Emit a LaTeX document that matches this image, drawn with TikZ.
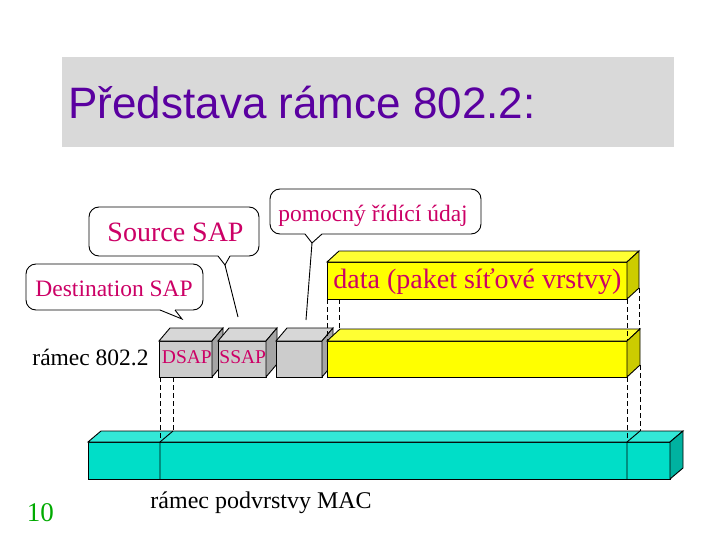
\documentclass[tikz,border=0pt]{standalone}
\usepackage{fontspec}
\setmainfont{Liberation Serif}
\newfontfamily\titlefont{Liberation Sans}
\definecolor{titlec}{RGB}{90,0,160}
\definecolor{bannerc}{RGB}{217,217,217}
\definecolor{callc}{RGB}{204,0,102}
\definecolor{numc}{RGB}{0,170,0}
\definecolor{grayF}{RGB}{204,204,204}
\definecolor{grayT}{RGB}{215,215,215}
\definecolor{grayS}{RGB}{165,165,165}
\definecolor{yelF}{RGB}{255,255,0}
\definecolor{yelT}{RGB}{255,255,51}
\definecolor{yelS}{RGB}{204,204,0}
\definecolor{cyF}{RGB}{0,222,200}
\definecolor{cyT}{RGB}{51,232,215}
\definecolor{cyS}{RGB}{0,178,160}
\newcommand\threedbox[9]{%
  \filldraw[fill=#7] (#1,#2) rectangle (#3,#4);
  \filldraw[fill=#8] (#1,#2) -- (#1+#5,#2-#6) -- (#3+#5,#2-#6) -- (#3,#2) -- cycle;
  \filldraw[fill=#9] (#3,#2) -- (#3+#5,#2-#6) -- (#3+#5,#4-#6) -- (#3,#4) -- cycle;
}
\begin{document}
\begin{tikzpicture}[x=1pt,y=-1pt,line width=0.9pt,
  bubble/.style={draw,fill=white,rounded corners=10pt,inner sep=0pt},
  lbl/.style={anchor=base west,inner sep=0pt},
  calltext/.style={lbl,text=callc},
  guide/.style={dashed,dash pattern=on 5pt off 3pt,line width=0.8pt}]
\useasboundingbox (0,0) rectangle (720,540);
% title banner
\fill[bannerc] (62,57) rectangle (674,147);
\node[lbl,text=titlec,font=\titlefont\fontsize{44}{48}\selectfont] (title) at (68,119) {Představa rámce 802.2:};

% MAC frame
\threedbox{88}{442}{670}{479}{13}{11}{cyF}{cyT}{cyS}
\coordinate (macL) at (160,442);
\coordinate (macLb) at (160,479);
\coordinate (macLt) at (173,431);
\coordinate (macR) at (627,442);
\coordinate (macRb) at (627,479);
\coordinate (macRt) at (640,431);
\draw (macLb) -- (macL) -- (macLt);
\draw (macRb) -- (macR) -- (macRt);

% 802.2 frame
\threedbox{159}{341}{212}{377}{11}{13}{grayF}{grayT}{grayS}
\threedbox{218}{341}{266}{377}{11}{13}{grayF}{grayT}{grayS}
\threedbox{276}{341}{322}{377}{11}{13}{grayF}{grayT}{grayS}
\threedbox{327}{341}{627}{377}{13}{12}{yelF}{yelT}{yelS}
\node[calltext,font=\fontsize{19.5}{21}\selectfont] (dsap) at (161.5,363) {DSAP};
\node[calltext,font=\fontsize{19.5}{21}\selectfont] (ssap) at (219,363) {SSAP};

% data box
\threedbox{327}{262}{627}{299}{12}{11}{yelF}{yelT}{yelS}
\node[calltext,font=\fontsize{28}{30}\selectfont] (data) at (333,288) {data (paket síťové vrstvy)};

% guide lines
\coordinate (g1a) at (160,377); \coordinate (g1b) at (160,442);
\coordinate (g2a) at (173,377); \coordinate (g2b) at (173,431);
\coordinate (g3a) at (627,377); \coordinate (g3b) at (627,442);
\coordinate (g4a) at (640,365); \coordinate (g4b) at (640,431);
\coordinate (g5a) at (327,299); \coordinate (g5b) at (327,341);
\coordinate (g6a) at (339,299); \coordinate (g6b) at (339,329);
\coordinate (g7a) at (627,299); \coordinate (g7b) at (627,341);
\coordinate (g8a) at (639,288); \coordinate (g8b) at (639,329);
\foreach \i in {1,...,8} {\draw[guide] (g\i a) -- (g\i b);}

% labels
\node[lbl,font=\fontsize{23.5}{26}\selectfont] (frame) at (32,365) {rámec 802.2};
\node[lbl,font=\fontsize{24}{26}\selectfont] (mac) at (150,508) {rámec podvrstvy MAC};
\node[lbl,text=numc,font=\fontsize{27}{30}\selectfont] (num) at (26.5,521) {10};

% callout 1
\node[bubble,minimum width=177pt,minimum height=46pt] (bub1) at (114.5,287) {};
\coordinate (w1a) at (160,310); \coordinate (w1tip) at (182,319); \coordinate (w1b) at (175,310);
\fill[white] (160,308.5) -- (w1a) -- (w1tip) -- (w1b) -- (175,308.5) -- cycle;
\draw (w1a) -- (w1tip) -- (w1b);
\node[calltext,font=\fontsize{23.5}{26}\selectfont] (t1) at (35,296) {Destination SAP};

% callout 2
\node[bubble,minimum width=170pt,minimum height=49pt] (bub2) at (174,231.5) {};
\coordinate (w2a) at (218,256); \coordinate (w2tip) at (225,265); \coordinate (w2b) at (230,256);
\fill[white] (218,254.5) -- (w2a) -- (w2tip) -- (w2b) -- (230,254.5) -- cycle;
\draw (w2a) -- (w2tip) -- (w2b);
\coordinate (p2) at (238,317);
\draw (w2tip) -- (p2);
\node[calltext,font=\fontsize{28}{30}\selectfont] (t2) at (107,241) {Source SAP};

% callout 3
\node[bubble,minimum width=211pt,minimum height=45pt] (bub3) at (375.5,211.5) {};
\coordinate (w3a) at (305,234); \coordinate (w3tip) at (312,243); \coordinate (w3b) at (322,234);
\fill[white] (305,232.5) -- (w3a) -- (w3tip) -- (w3b) -- (322,232.5) -- cycle;
\draw (w3a) -- (w3tip) -- (w3b);
\coordinate (p3) at (306,320);
\draw (w3tip) -- (p3);
\node[calltext,font=\fontsize{23.5}{26}\selectfont] (t3) at (278,222) {pomocný řídící údaj};
\end{tikzpicture}
\end{document}
